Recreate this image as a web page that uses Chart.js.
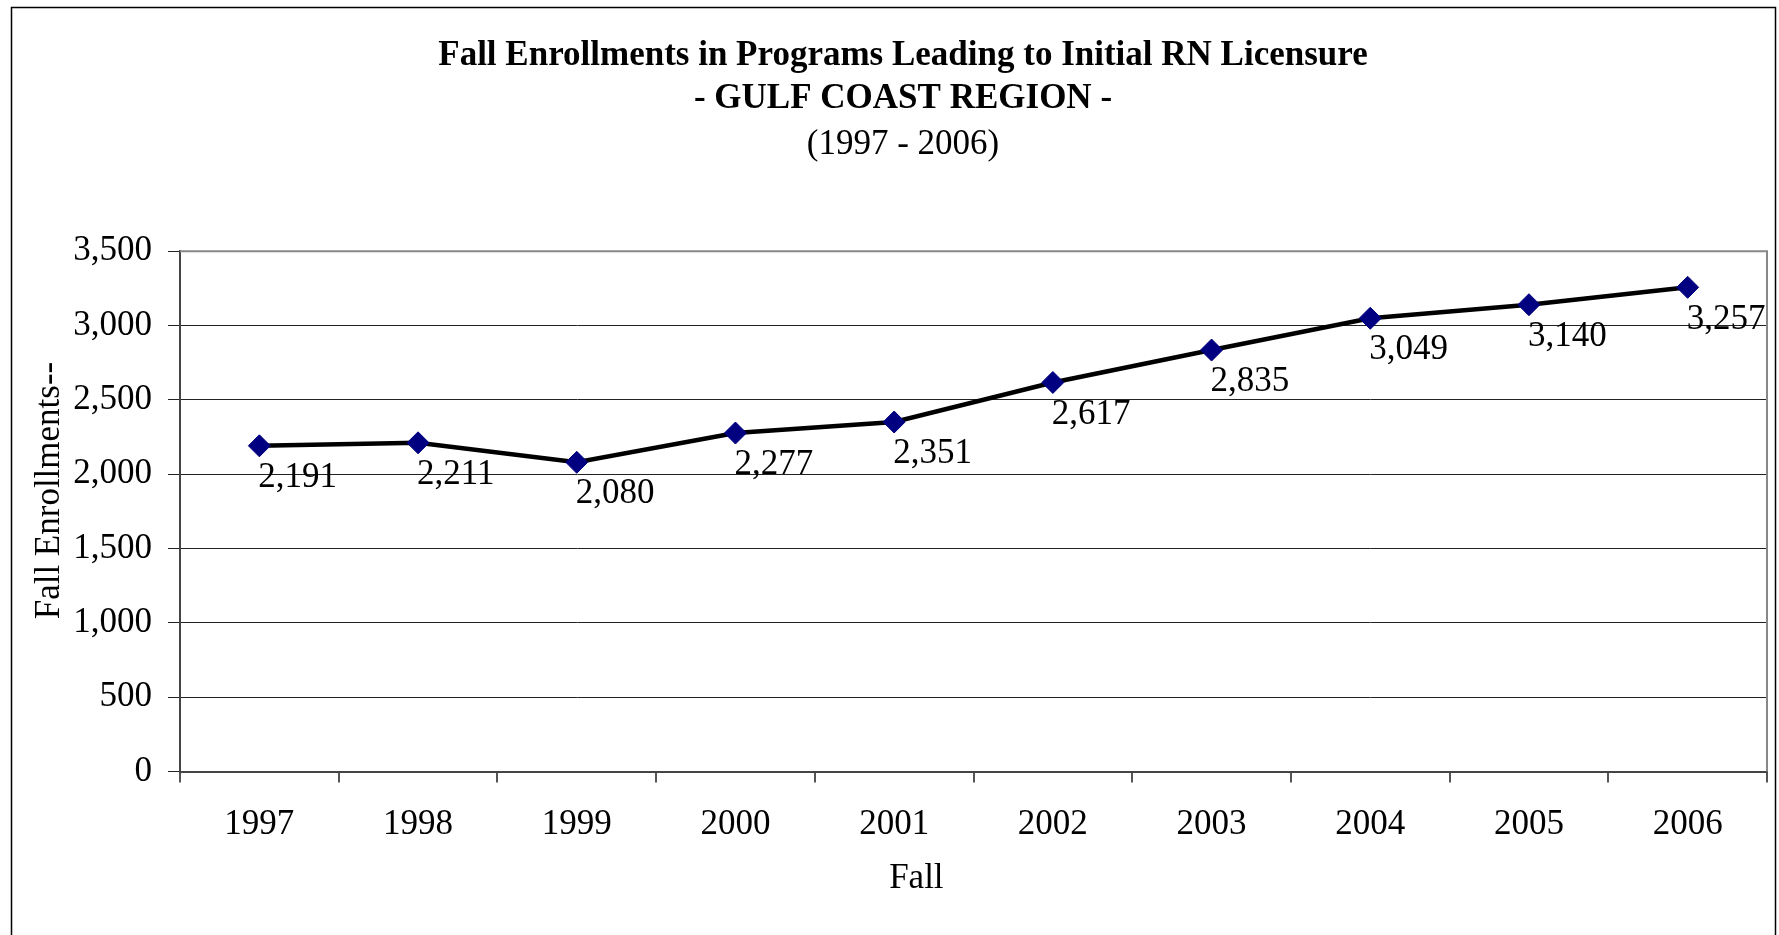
<!DOCTYPE html>
<html lang="en">
  <head>
    <meta charset="UTF-8" />
    <title>Fall Enrollments - Gulf Coast Region</title>
    <script src="https://cdn.jsdelivr.net/npm/chart.js"></script>
    <style>
      html, body {
        margin: 0;
        padding: 0;
        background: #fff;
      }
      .wrap {
        position: relative;
        width: 1779px;
        height: 935px;
      }
    </style>
  </head>
  <body>
    <div class="wrap">
      <canvas id="enroll-chart"></canvas>
    </div>

    <script>
      // data
      const years = ["1997", "1998", "1999", "2000", "2001", "2002", "2003", "2004", "2005", "2006"];
      const enrollments = [2191, 2211, 2080, 2277, 2351, 2617, 2835, 3049, 3140, 3257];
      const yTicks = [0, 500, 1000, 1500, 2000, 2500, 3000, 3500];

      const titleLines = ["Fall Enrollments in Programs Leading to Initial RN Licensure", "- GULF COAST REGION -"];
      const subtitleText = "(1997 - 2006)";
      const xTitle = "Fall";
      const yTitle = "Fall Enrollments--";

      const serif = "'Liberation Serif', 'Times New Roman', serif";
      const fontSize = 35;
      const fmt = (v) => Number(v).toLocaleString("en-US");

      // white page, outer frame, top/right plot border
      const framePlugin = {
        id: "frame",
        beforeDraw(chart) {
          const c = chart.ctx;
          c.save();
          c.fillStyle = "#fff";
          c.fillRect(0, 0, chart.width, chart.height);
          c.strokeStyle = "#000";
          c.lineWidth = 1.5;
          c.strokeRect(11.5, 7.5, chart.width - 15, chart.height + 20);
          c.restore();
        },
        afterDatasetsDraw(chart) {
          const a = chart.chartArea;
          const c = chart.ctx;
          c.save();
          c.strokeStyle = "#888";
          c.lineWidth = 2;
          c.beginPath();
          c.moveTo(a.left, a.top);
          c.lineTo(a.right, a.top);
          c.lineTo(a.right, a.bottom);
          c.stroke();
          c.restore();
        },
      };

      // value labels under each point + axis titles
      const labelPlugin = {
        id: "valueLabels",
        afterDraw(chart) {
          const c = chart.ctx;
          const meta = chart.getDatasetMeta(0);
          const a = chart.chartArea;
          c.save();
          c.font = fontSize + "px " + serif;
          c.fillStyle = "#000";
          c.textAlign = "left";
          c.textBaseline = "middle";
          meta.data.forEach((pt, i) => {
            c.fillText(fmt(enrollments[i]), pt.x - 1, pt.y + 32);
          });
          // x axis title sits a bit left of the plot centre, like the original
          c.textAlign = "center";
          c.fillText(xTitle, a.left + (a.right - a.left) * 0.464, 879);
          // y axis title
          c.translate(50, a.top + (a.bottom - a.top) * 0.46);
          c.rotate(-Math.PI / 2);
          c.fillText(yTitle, 0, 0);
          c.restore();
        },
      };

      const ctx = document.getElementById("enroll-chart").getContext("2d");

      new Chart(ctx, {
        type: "line",
        data: {
          labels: years,
          datasets: [
            {
              label: "Fall Enrollments",
              data: enrollments,
              borderColor: "#000",
              borderWidth: 4.5,
              tension: 0,
              pointStyle: "rectRot",
              pointRadius: 11,
              pointBackgroundColor: "#000080",
              pointBorderColor: "#000080",
              pointBorderWidth: 1,
            },
          ],
        },
        options: {
          responsive: true,
          maintainAspectRatio: false,
          animation: false,
          layout: {
            padding: { left: 38, right: 11, top: 0, bottom: 92.5 },
          },
          plugins: {
            legend: { display: false },
            tooltip: { enabled: false },
            title: {
              display: true,
              text: titleLines,
              color: "#000",
              font: { family: serif, size: fontSize, weight: "bold", lineHeight: 1.24 },
              padding: { top: 34, bottom: 2 },
            },
            subtitle: {
              display: true,
              text: subtitleText,
              color: "#000",
              font: { family: serif, size: fontSize, weight: "normal", lineHeight: 1.24 },
              padding: { top: 0, bottom: 85 },
            },
          },
          scales: {
            x: {
              offset: true,
              afterFit(scale) {
                scale.height = 71;
              },
              grid: {
                offset: true,
                drawOnChartArea: false,
                drawTicks: true,
                tickLength: 11,
                color: "#555",
                lineWidth: 2,
              },
              border: { display: true, color: "#444", width: 2 },
              ticks: {
                color: "#000",
                font: { family: serif, size: fontSize },
                padding: 21,
                maxRotation: 0,
              },
            },
            y: {
              min: yTicks[0],
              max: yTicks[yTicks.length - 1],
              afterBuildTicks(scale) {
                scale.ticks = yTicks.map((v) => ({ value: v }));
              },
              afterFit(scale) {
                scale.width = 142;
              },
              grid: {
                color: (c) => (c.tick && c.tick.value === yTicks[yTicks.length - 1] ? "#888" : "#222"),
                lineWidth: 1,
                tickLength: 12,
                tickColor: "#222",
              },
              border: { display: true, color: "#444", width: 2 },
              ticks: {
                color: "#000",
                font: { family: serif, size: fontSize },
                padding: 16,
                callback: (v) => fmt(v),
              },
            },
          },
        },
        plugins: [framePlugin, labelPlugin],
      });
    </script>
  </body>
</html>
